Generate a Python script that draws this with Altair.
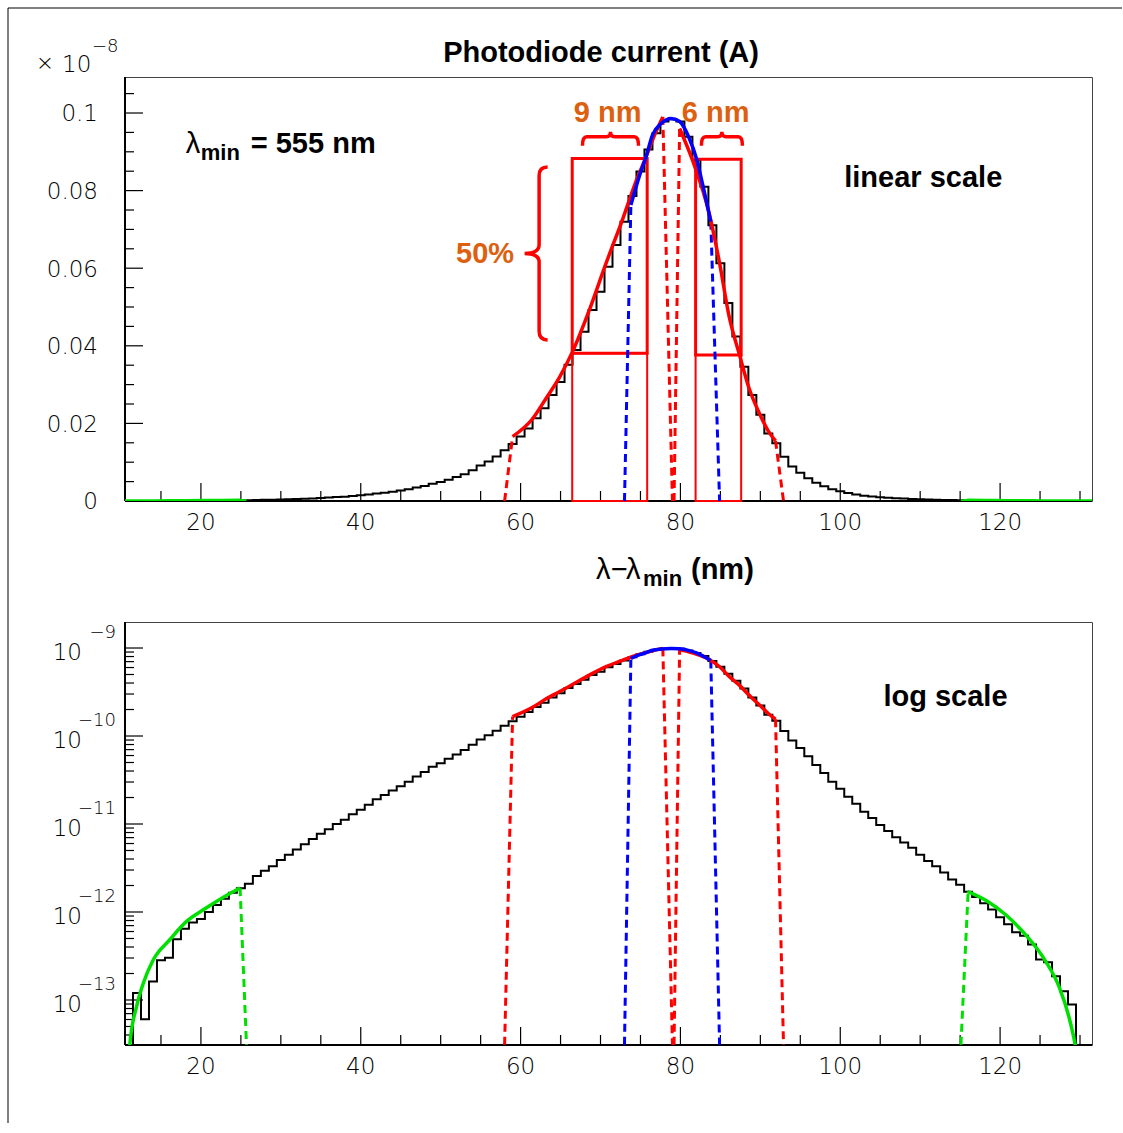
import altair as alt
import pandas as pd

# ---------------- values ----------------
BIN_LOW_EDGE = 10.5   # nm, low edge of the first 1-nm bin
BIN_WIDTH = 1.0
# photodiode current per bin (A), bins centred on 11, 12, ..., 131 nm
current_A = [
    0.0, 1.20e-13, 6.03e-14, 1.62e-13, 2.82e-13, 3.02e-13, 4.90e-13, 6.46e-13, 7.59e-13, 8.32e-13,
    1.00e-12, 1.20e-12, 1.41e-12, 1.66e-12, 1.86e-12, 2.09e-12, 2.57e-12, 2.95e-12, 3.31e-12, 3.89e-12,
    4.47e-12, 5.13e-12, 5.89e-12, 6.76e-12, 7.76e-12, 8.71e-12, 1.00e-11, 1.12e-11, 1.29e-11, 1.45e-11,
    1.66e-11, 1.91e-11, 2.14e-11, 2.40e-11, 2.69e-11, 3.02e-11, 3.47e-11, 3.89e-11, 4.47e-11, 4.90e-11,
    5.50e-11, 6.17e-11, 6.92e-11, 7.94e-11, 9.12e-11, 1.02e-10, 1.15e-10, 1.31e-10, 1.47e-10, 1.66e-10,
    1.87e-10, 2.13e-10, 2.39e-10, 2.73e-10, 3.07e-10, 3.51e-10, 3.89e-10, 4.36e-10, 4.92e-10, 5.39e-10,
    6.04e-10, 6.60e-10, 7.20e-10, 7.86e-10, 8.49e-10, 9.06e-10, 9.48e-10, 9.78e-10, 9.84e-10, 9.78e-10,
    9.39e-10, 8.79e-10, 8.10e-10, 7.11e-10, 6.13e-10, 5.10e-10, 4.24e-10, 3.46e-10, 2.73e-10, 2.22e-10,
    1.74e-10, 1.49e-10, 1.14e-10, 8.90e-11, 7.30e-11, 5.89e-11, 4.68e-11, 3.80e-11, 3.02e-11, 2.51e-11,
    2.04e-11, 1.70e-11, 1.38e-11, 1.17e-11, 9.77e-12, 8.32e-12, 7.08e-12, 6.17e-12, 5.37e-12, 4.47e-12,
    3.80e-12, 3.31e-12, 2.82e-12, 2.34e-12, 2.04e-12, 1.70e-12, 1.48e-12, 1.26e-12, 1.07e-12, 8.71e-13,
    7.24e-13, 5.89e-13, 5.37e-13, 4.27e-13, 2.88e-13, 2.69e-13, 1.86e-13, 1.26e-13, 8.91e-14, 0.0,
    0.0,
]

AXIS_BOTTOM_A = 3.1e-14   # dashed extensions run down to the bottom of the log axis

# fitted curves (nm, A)
red_left_x = [59.0, 61.5, 63.2, 64.9, 66.5, 68.6, 70.7, 72.8, 74.5, 75.7, 76.8, 77.8]
red_left_y = [1.66e-10, 2.12e-10, 2.65e-10, 3.20e-10, 3.85e-10, 4.92e-10, 6.13e-10, 7.28e-10,
              8.27e-10, 8.87e-10, 9.45e-10, 9.90e-10]
red_right_x = [79.9, 81.5, 83.6, 84.9, 86.1, 87.4, 88.6, 89.9, 91.0, 91.9]
red_right_y = [9.60e-10, 8.79e-10, 7.41e-10, 6.13e-10, 4.75e-10, 3.76e-10, 2.90e-10, 2.25e-10,
               1.80e-10, 1.55e-10]
blue_x = [73.8, 74.9, 75.7, 76.5, 77.6, 78.8, 79.9, 81.1, 82.0, 82.8, 83.8]
blue_y = [7.63e-10, 8.40e-10, 8.87e-10, 9.43e-10, 9.73e-10, 9.86e-10, 9.78e-10, 9.35e-10,
          8.83e-10, 8.14e-10, 7.20e-10]
green_left_x = [10.5, 11.1, 11.96, 12.8, 14.04, 16.1, 18.2, 20.3, 22.4, 24.9]
green_left_y = [1e-15, 3.1e-14, 8.5e-14, 1.56e-13, 2.87e-13, 4.84e-13, 7.82e-13, 1.06e-12,
                1.40e-12, 1.87e-12]
green_right_x = [115.9, 118.2, 120.7, 123.2, 125.7, 127.4, 128.6, 129.4, 131.5]
green_right_y = [1.72e-12, 1.36e-12, 9.3e-13, 5.5e-13, 2.75e-13, 1.40e-13, 6.5e-14, 3.1e-14, 1e-15]

# dashed continuations of the fits: (colour, [x_start, x_end], [y_start, y_end])
dashed_fits = [
    ("#ff0000", [59.0, 58.0], [1.66e-10, AXIS_BOTTOM_A]),
    ("#ff0000", [77.8, 79.0], [9.90e-10, AXIS_BOTTOM_A]),
    ("#ff0000", [79.9, 79.2], [9.60e-10, AXIS_BOTTOM_A]),
    ("#ff0000", [91.9, 92.9], [1.55e-10, AXIS_BOTTOM_A]),
    ("#0000ff", [73.8, 73.0], [7.63e-10, AXIS_BOTTOM_A]),
    ("#0000ff", [83.8, 84.9], [7.20e-10, AXIS_BOTTOM_A]),
    ("#00e000", [24.9, 25.7], [1.87e-12, AXIS_BOTTOM_A]),
    ("#00e000", [116.0, 115.1], [1.70e-12, AXIS_BOTTOM_A]),
]

# red boxes on the linear plot (nm, A)
box_x1 = [66.46, 66.46, 81.9, 81.9]
box_x2 = [75.84, 75.84, 87.6, 87.6]
box_y1 = [3.81e-10, 0.0, 3.76e-10, 0.0]
box_y2 = [8.83e-10, 3.81e-10, 8.81e-10, 3.76e-10]
box_w = [3.0, 2.0, 3.0, 2.0]

x_major = [20, 40, 60, 80, 100, 120]
x_labels = ["20", "40", "60", "80", "100", "120"]
x_minor = [v for v in range(15, 131, 5) if v % 20 != 0]
ytop_major = [0, 0.02, 0.04, 0.06, 0.08, 0.1]
ytop_labels = ["0", "0.02", "0.04", "0.06", "0.08", "0.1"]
ytop_minor = [round(0.005 * k, 3) for k in range(1, 22) if k % 4 != 0]
log_decades = [1e-9, 1e-10, 1e-11, 1e-12, 1e-13]
log_exponents = ["\u22129", "\u221210", "\u221211", "\u221212", "\u221213"]
log_minor = [m * 10.0 ** e for e in range(-14, -8) for m in range(2, 10)]

# ---------------- styling ----------------
W, HT, HB = 967, 424, 423
SCALE_UNIT = 1e-8
THIN_FONT, THIN_W = "DejaVu Sans", 200
BOLD_FONT = "Liberation Sans"
ORANGE = "#dd6010"
LOG_MIN, LOG_MAX = 3.08e-14, 1.975e-9
XS = alt.Scale(domain=[10.5, 131.5], nice=False, zero=False)
YT = alt.Scale(domain=[0, 0.10928], nice=False, zero=False)
YB = alt.Scale(type="log", domain=[LOG_MIN, LOG_MAX], nice=False)
LOG_FLOOR = 1e-16


def X(field="x"):
    return alt.X(f"{field}:Q", scale=XS, axis=None)


def YTop(field="v"):
    return alt.Y(f"{field}:Q", scale=YT, axis=None)


def YBot(field="a"):
    return alt.Y(f"{field}:Q", scale=YB, axis=None)


def curve_df(xs, ys):
    return pd.DataFrame({"x": xs, "v": [y / SCALE_UNIT for y in ys],
                         "a": [max(y, LOG_FLOOR) for y in ys]})


def line(df, color, width, panel, dash=None, interp="monotone"):
    kw = dict(color=color, strokeWidth=width, interpolate=interp, clip=True)
    if dash:
        kw["strokeDash"] = dash
    y = YTop() if panel == "top" else YBot()
    return alt.Chart(df).mark_line(**kw).encode(x=X(), y=y)


one = pd.DataFrame({"k": [0]})

edges = [BIN_LOW_EDGE + i * BIN_WIDTH for i in range(len(current_A) + 1)]
hist_vals = current_A + [current_A[-1]]
hist = curve_df(edges, hist_vals)


def frame_layers(panel, height):
    """axis lines, tick marks and tick labels drawn ROOT-style (ticks inside)."""
    ys = YTop("t") if panel == "top" else YBot("t")
    lay = []
    lay.append(alt.Chart(pd.DataFrame({"t": x_major})).mark_rule(color="black", strokeWidth=1.2)
               .encode(x=X("t"), y=alt.value(height), y2=alt.value(height - 18)))
    lay.append(alt.Chart(pd.DataFrame({"t": x_minor})).mark_rule(color="black", strokeWidth=1.2)
               .encode(x=X("t"), y=alt.value(height), y2=alt.value(height - 10)))
    if panel == "top":
        ymaj, ymin = ytop_major, ytop_minor
    else:
        ymaj = log_decades
        ymin = [v for v in log_minor if LOG_MIN <= v <= LOG_MAX]
    lay.append(alt.Chart(pd.DataFrame({"t": ymaj})).mark_rule(color="black", strokeWidth=1.2)
               .encode(y=ys, x=alt.value(0), x2=alt.value(18)))
    lay.append(alt.Chart(pd.DataFrame({"t": ymin})).mark_rule(color="black", strokeWidth=1.2)
               .encode(y=ys, x=alt.value(0), x2=alt.value(9)))
    # axis lines (left and bottom, heavier than the frame)
    lay.append(alt.Chart(one).mark_rule(color="black", strokeWidth=2).encode(
        x=alt.value(0), x2=alt.value(W), y=alt.value(height)))
    lay.append(alt.Chart(one).mark_rule(color="black", strokeWidth=2).encode(
        x=alt.value(0), y=alt.value(0), y2=alt.value(height)))
    # x tick labels
    lay.append(alt.Chart(pd.DataFrame({"t": x_major, "lab": x_labels})).mark_text(
        font=THIN_FONT, fontWeight=THIN_W, fontSize=23, align="center", baseline="alphabetic",
        color="black").encode(x=X("t"), y=alt.value(height + 29), text="lab:N"))
    if panel == "top":
        lay.append(alt.Chart(pd.DataFrame({"t": ytop_major, "lab": ytop_labels})).mark_text(
            font=THIN_FONT, fontWeight=THIN_W, fontSize=23, align="right", baseline="alphabetic",
            color="black", dy=8.3).encode(y=ys, x=alt.value(-27), text="lab:N"))
    else:
        dec_df = pd.DataFrame({"t": log_decades, "e": log_exponents})
        lay.append(alt.Chart(dec_df).mark_text(
            text="10", font=THIN_FONT, fontWeight=THIN_W, fontSize=23, align="right",
            baseline="alphabetic", color="black", dy=11.7).encode(y=ys, x=alt.value(-43)))
        lay.append(alt.Chart(dec_df).mark_text(
            font=THIN_FONT, fontWeight=THIN_W, fontSize=18, align="right",
            baseline="alphabetic", color="black", dy=-10).encode(y=ys, x=alt.value(-9), text="e:N"))
    return lay


def fit_layers(panel):
    lay = []
    for col, xs, ys in dashed_fits:
        lay.append(line(curve_df(xs, ys), col, 3, panel, dash=[8, 5], interp="linear"))
    lay.append(line(curve_df(green_left_x, green_left_y), "#00e000", 3.5, panel))
    lay.append(line(curve_df(green_right_x, green_right_y), "#00e000", 3.5, panel))
    lay.append(line(curve_df(red_left_x, red_left_y), "#ff0000", 3.5, panel))
    lay.append(line(curve_df(red_right_x, red_right_y), "#ff0000", 3.5, panel))
    lay.append(line(curve_df(blue_x, blue_y), "#0000ff", 3.5, panel))
    return lay


def px_text(text, x, y, size, font, weight, align="left", color="black"):
    return alt.Chart(one).mark_text(text=text, font=font, fontSize=size, fontWeight=weight,
                                    align=align, baseline="alphabetic", color=color).encode(
        x=alt.value(x), y=alt.value(y))


def data_text(text, x, v, size, font, weight, align="left", color="black", dx=0, dy=0, panel="top"):
    df = pd.DataFrame({"x": [x], "v": [v], "a": [v]})
    y = YTop() if panel == "top" else YBot()
    return alt.Chart(df).mark_text(text=text, font=font, fontSize=size, fontWeight=weight,
                                   align=align, baseline="alphabetic", color=color,
                                   dx=dx, dy=dy).encode(x=X(), y=y)


def brace(path, x, v, size):
    df = pd.DataFrame({"x": [x], "v": [v]})
    return alt.Chart(df).mark_point(shape=path, size=size, filled=False, color="#ff0000",
                                    strokeWidth=3.5, opacity=1).encode(x=X(), y=YTop())


V_BRACE = ("M 0.133 -1 Q 0.035 -1 0.035 -0.9 L 0.035 -0.1 Q 0.035 0 -0.133 0 "
           "Q 0.035 0 0.035 0.1 L 0.035 0.9 Q 0.035 1 0.133 1")
H_BRACE_L = ("M -1 0.32 Q -1 0 -0.85 0 L -0.15 0 Q 0 0 0 -0.18 Q 0 0 0.15 0 "
             "L 0.85 0 Q 1 0 1 0.32")
H_BRACE_R = ("M -1 0.44 Q -1 0 -0.8 0 L -0.2 0 Q 0 0 0 -0.24 Q 0 0 0.2 0 "
             "L 0.8 0 Q 1 0 1 0.44")

# ---------------- top panel (linear) ----------------
boxes = pd.DataFrame({"x": box_x1, "x2": box_x2,
                      "v": [y / SCALE_UNIT for y in box_y1], "v2": [y / SCALE_UNIT for y in box_y2],
                      "w": box_w})
top_layers = frame_layers("top", HT)
top_layers.append(
    alt.Chart(hist).mark_line(interpolate="step-after", color="black", strokeWidth=2).encode(
        x=X(), y=YTop()))
for w in sorted(set(box_w)):
    top_layers.append(
        alt.Chart(boxes[boxes["w"] == w]).mark_rect(fillOpacity=0, stroke="#ff0000", strokeWidth=w)
        .encode(x=X(), x2="x2:Q", y=YTop(), y2="v2:Q"))
top_layers += fit_layers("top")
top_layers += [
    brace(V_BRACE, 61.94, 0.0638, 173 ** 2),
    brace(H_BRACE_L, 71.25, 0.0939, 56 ** 2),
    brace(H_BRACE_R, 85.19, 0.0939, 41 ** 2),
    data_text("\u03bb", 18.1, 0.0897, 29, BOLD_FONT, "normal"),
    data_text("min", 18.1, 0.0897, 22, BOLD_FONT, "bold", dx=15, dy=7),
    data_text("= 555 nm", 18.1, 0.0897, 29, BOLD_FONT, "bold", dx=65),
    data_text("linear scale", 100.5, 0.0809, 29, BOLD_FONT, "bold"),
    data_text("9 nm", 70.9, 0.0977, 29, BOLD_FONT, "bold", align="center", color=ORANGE),
    data_text("6 nm", 84.4, 0.0977, 29, BOLD_FONT, "bold", align="center", color=ORANGE),
    data_text("50%", 55.56, 0.0613, 29, BOLD_FONT, "bold", align="center", color=ORANGE),
    px_text("Photodiode current (A)", 476, -15, 29, BOLD_FONT, "bold", align="center"),
    px_text("\u00d7", -80, -7, 22, THIN_FONT, THIN_W, align="center"),
    px_text("10", -63, -5, 23, THIN_FONT, THIN_W),
    px_text("\u22128", -33, -25, 18, THIN_FONT, THIN_W),
    px_text("\u03bb", 471, 502, 29, BOLD_FONT, "normal"),
    px_text("\u2212", 486, 502, 29, BOLD_FONT, "normal"),
    px_text("\u03bb", 501, 502, 29, BOLD_FONT, "normal"),
    px_text("min", 518, 509, 22, BOLD_FONT, "bold"),
    px_text("(nm)", 566, 502, 29, BOLD_FONT, "bold"),
    # canvas frame (left and top edges)
    alt.Chart(one).mark_rule(color="black", strokeWidth=1).encode(
        x=alt.value(-117), y=alt.value(-69), y2=alt.value(1046)),
    alt.Chart(one).mark_rule(color="black", strokeWidth=1).encode(
        x=alt.value(-117), x2=alt.value(997), y=alt.value(-69)),
]
top = alt.layer(*top_layers).properties(width=W, height=HT)

# ---------------- bottom panel (log) ----------------
bot_layers = frame_layers("bottom", HB)
bot_layers.append(
    alt.Chart(hist).mark_line(interpolate="step-after", color="black", strokeWidth=2, clip=True).encode(
        x=X(), y=YBot()))
bot_layers += fit_layers("bottom")
bot_layers += [
    data_text("log scale", 105.4, 2.21e-10, 29, BOLD_FONT, "bold", panel="bottom"),
]
bottom = alt.layer(*bot_layers).properties(width=W, height=HB)

chart = (
    alt.vconcat(top, bottom, spacing=121, bounds="flush")
    .resolve_scale(x="independent", y="independent")
    .properties(padding={"left": 7, "top": 7, "right": 0, "bottom": 0}, background="white")
    .configure_view(stroke="#444444", strokeWidth=1)
)

chart.save("out.html", embed_options={"renderer": "svg", "actions": False})
